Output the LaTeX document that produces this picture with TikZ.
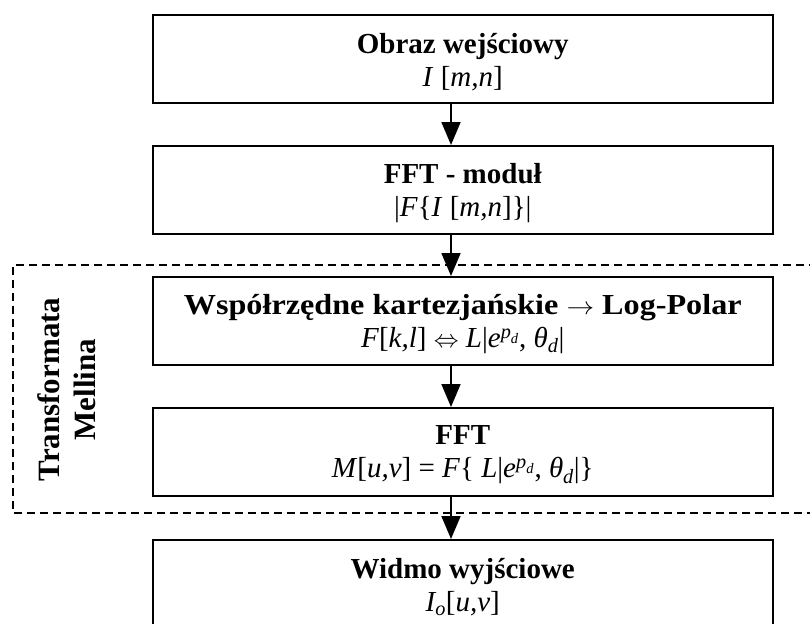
\documentclass[tikz,border=0pt]{standalone}
\usepackage{fontspec}
\usepackage{amsmath}
\usepackage{graphicx}
\setmainfont{Liberation Serif}
\usetikzlibrary{arrows.meta}
% italic letters of the formulas, in the text face
\newcommand\vi[1]{\textit{#1}}
\begin{document}
\begin{tikzpicture}[x=1pt,y=-1pt,
  stage/.style={draw, line width=2pt, minimum width=620pt, minimum height=88pt,
    inner sep=0pt},
  caption/.style={align=center, inner sep=0pt, font=\fontsize{29}{33}\selectfont},
  flow/.style={line width=1.8pt, -{Triangle[length=23pt,width=19pt]}},
  region/.style={line width=1.5pt, dash pattern=on 8pt off 5pt},
  regionlabel/.style={rotate=90, align=center, inner sep=0pt,
    font=\bfseries\fontsize{31}{36}\selectfont}]
\useasboundingbox (0,0) rectangle (810,623);
\clip (0,0) rectangle (810,623);

% processing stages
\node[stage] (b1) at (462.75,59)  {};
\node[stage] (b2) at (462.75,190) {};
\node[stage] (b3) at (462.75,321) {};
\node[stage] (b4) at (462.75,452) {};
\node[stage] (b5) at (462.75,584) {};

% their captions
\node[caption] (t1) at ([yshift=-3pt]b1.center)
  {\textbf{Obraz wejściowy}\\\vi{I} [\vi{m,n}]};
\node[caption] (t2) at ([yshift=-3pt]b2.center)
  {\textbf{FFT - moduł}\\|\vi{F}\{\vi{I} [\vi{m,n}]\}|};
\node[caption] (t3) at ([yshift=-3pt]b3.center)
  {\scalebox{1.11}[1]{\textbf{Współrzędne kartezjańskie $\rightarrow$ Log-Polar}}\\
   \vi{F}[\vi{k,l}] $\Leftrightarrow$ \vi{L}|$\vi{e}^{\vi{p}_{\vi{d}}}$, $\vi{θ}_{\vi{d}}$|};
\node[caption] (t4) at ([yshift=-3pt]b4.center)
  {\textbf{FFT}\\\vi{M}[\vi{u,v}] = \vi{F}\{ \vi{L}|$\vi{e}^{\vi{p}_{\vi{d}}}$, $\vi{θ}_{\vi{d}}$|\}};
\node[caption] (t5) at ([yshift=-3pt]b5.center)
  {\textbf{Widmo wyjściowe}\\$\vi{I}_{\vi{o}}$[\vi{u,v}]};

% dashed frame of the Mellin transform, open to the right
\coordinate (fr1) at (830,265);
\coordinate (fr2) at (13,265);
\coordinate (fr3) at (13,513);
\coordinate (fr4) at (830,513);
\draw[region] (fr1) -- (fr2) -- (fr3) -- (fr4);
\node[regionlabel] (mellin) at (67,389.5) {Transformata\\Mellina};

% connectors
\foreach \a/\b in {b1/b2,b2/b3,b3/b4,b4/b5}
  \draw[flow] ([xshift=-11.75pt]\a.south) -- ([xshift=-11.75pt]\b.north);
\end{tikzpicture}
\end{document}
